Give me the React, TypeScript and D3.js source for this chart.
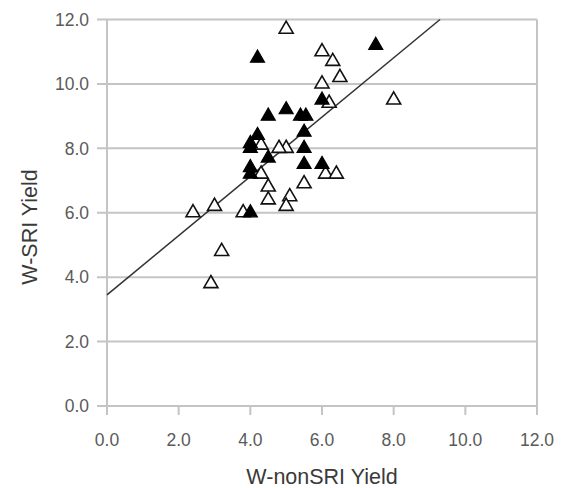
import { useEffect, useRef } from "react";
import * as d3 from "d3";

// open triangles (nonSRI vs SRI, group 1)
const openX = [5.0, 6.0, 6.3, 6.5, 6.0, 6.2, 8.0, 5.0, 4.8, 4.3, 4.3, 4.5, 4.5, 5.1, 5.0, 5.5, 6.1, 6.4, 2.4, 3.0, 3.8, 3.2, 2.9];
const openY = [11.7, 11.0, 10.7, 10.2, 10.0, 9.4, 9.5, 8.0, 8.0, 8.1, 7.2, 6.8, 6.4, 6.5, 6.2, 6.9, 7.2, 7.2, 6.0, 6.2, 6.0, 4.8, 3.8];

// filled triangles (group 2)
const filledX = [4.2, 7.5, 6.0, 5.0, 4.5, 5.4, 5.55, 5.5, 4.2, 4.0, 4.0, 5.5, 4.5, 5.5, 6.0, 4.0, 4.0, 4.0];
const filledY = [10.8, 11.2, 9.5, 9.2, 9.0, 9.0, 9.0, 8.5, 8.4, 8.15, 8.0, 8.0, 7.7, 7.5, 7.5, 7.4, 7.2, 6.0];

const ticks = [0, 2, 4, 6, 8, 10, 12];

// trend line y = a + b x
const intercept = 3.45;
const slope = 0.92;

const ScatterChart = () => {
    const ref = useRef<HTMLDivElement>(null);

    useEffect(() => {
        const width = 567;
        const height = 488;
        const marginLeft = 107;
        const marginRight = 30;
        const marginTop = 19.5;
        const marginBottom = 82;

        const x = d3.scaleLinear([0, 12], [marginLeft, width - marginRight]);
        const y = d3.scaleLinear([0, 12], [height - marginBottom, marginTop]);

        const svg = d3
            .create("svg")
            .attr("width", width)
            .attr("height", height)
            .attr("viewBox", [0, 0, width, height])
            .style("position", "absolute")
            .style("left", "0px")
            .style("top", "0px")
            .style("font-family", "Arial, 'Liberation Sans', sans-serif");

        svg.append("rect").attr("width", width).attr("height", height).attr("fill", "#fff");

        const grid = "#c4c4c4";

        // horizontal grid lines
        svg.append("g")
            .selectAll("line")
            .data(ticks)
            .join("line")
            .attr("x1", x(0) - 10)
            .attr("x2", x(12))
            .attr("y1", (d) => y(d))
            .attr("y2", (d) => y(d))
            .attr("stroke", grid)
            .attr("stroke-width", 2);

        // left and right frame
        svg.append("line")
            .attr("x1", x(0)).attr("x2", x(0))
            .attr("y1", y(12)).attr("y2", y(0))
            .attr("stroke", grid).attr("stroke-width", 2);
        svg.append("line")
            .attr("x1", x(12)).attr("x2", x(12))
            .attr("y1", y(12)).attr("y2", y(0) + 9)
            .attr("stroke", grid).attr("stroke-width", 2);

        // x ticks
        svg.append("g")
            .selectAll("line")
            .data(ticks)
            .join("line")
            .attr("x1", (d) => x(d))
            .attr("x2", (d) => x(d))
            .attr("y1", y(0))
            .attr("y2", y(0) + 9)
            .attr("stroke", grid)
            .attr("stroke-width", 2);

        // tick labels
        svg.append("g")
            .selectAll("text")
            .data(ticks)
            .join("text")
            .attr("x", 89)
            .attr("y", (d) => y(d))
            .attr("dy", "0.36em")
            .attr("text-anchor", "end")
            .attr("fill", "#5a5a5a")
            .attr("font-size", 17.5)
            .text((d) => d.toFixed(1));

        svg.append("g")
            .selectAll("text")
            .data(ticks)
            .join("text")
            .attr("x", (d) => x(d))
            .attr("y", 446)
            .attr("text-anchor", "middle")
            .attr("fill", "#5a5a5a")
            .attr("font-size", 17.5)
            .text((d) => d.toFixed(1));

        // axis titles
        svg.append("text")
            .attr("x", (x(0) + x(12)) / 2)
            .attr("y", 484)
            .attr("text-anchor", "middle")
            .attr("fill", "#3a3a3a")
            .attr("font-size", 21.5)
            .text("W-nonSRI Yield");

        svg.append("text")
            .attr("transform", `translate(37,227) rotate(-90)`)
            .attr("text-anchor", "middle")
            .attr("fill", "#3a3a3a")
            .attr("font-size", 21.5)
            .text("W-SRI Yield");

        // trend line
        const xEnd = (12 - intercept) / slope;
        svg.append("line")
            .attr("x1", x(0))
            .attr("y1", y(intercept))
            .attr("x2", x(xEnd))
            .attr("y2", y(12))
            .attr("stroke", "#333")
            .attr("stroke-width", 1.5);

        const tri = d3.symbol().type(d3.symbolTriangle).size(85);

        const openData = openX.map((v, i) => [v, openY[i]]);
        const filledData = filledX.map((v, i) => [v, filledY[i]]);

        svg.append("g")
            .selectAll("path")
            .data(openData)
            .join("path")
            .attr("d", tri)
            .attr("transform", (d) => `translate(${x(d[0])},${y(d[1])})`)
            .attr("fill", "#fff")
            .attr("stroke", "#111")
            .attr("stroke-width", 1.6);

        svg.append("g")
            .selectAll("path")
            .data(filledData)
            .join("path")
            .attr("d", tri)
            .attr("transform", (d) => `translate(${x(d[0])},${y(d[1])})`)
            .attr("fill", "#000")
            .attr("stroke", "#000")
            .attr("stroke-width", 1.2);

        if (ref.current) {
            ref.current.innerHTML = "";
            ref.current.appendChild(svg.node()!);
        }
    }, []);

    return <div ref={ref}></div>;
};

export default function App() {
    return <ScatterChart />;
}
